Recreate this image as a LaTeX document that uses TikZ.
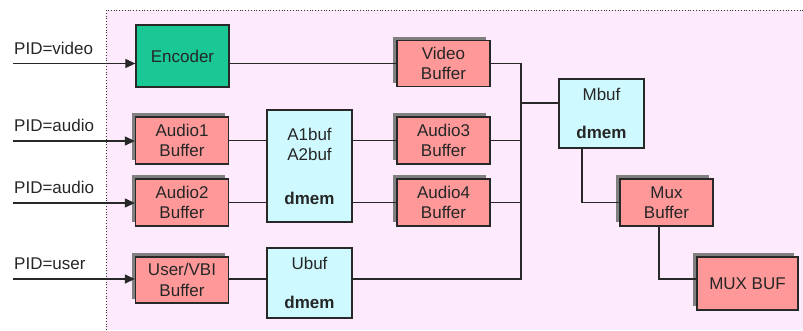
\documentclass[tikz,border=0pt]{standalone}
\usepackage{fontspec}
\setmainfont{Liberation Sans}
\usetikzlibrary{arrows.meta,shadows}
\definecolor{bgpink}{RGB}{253,234,252}
\definecolor{bufpink}{RGB}{255,153,153}
\definecolor{memcyan}{RGB}{206,250,255}
\definecolor{encgreen}{RGB}{26,200,150}
\definecolor{edgecol}{RGB}{40,40,40}
\begin{document}
\begin{tikzpicture}[x=1pt,y=-1pt,
  every node/.style={font=\fontsize{17}{20.5}\selectfont, text=black!85},
  box/.style={draw=edgecol, line width=1.3pt, inner sep=0pt, align=center},
  bufbox/.style={box, fill=bufpink, minimum width=93pt, minimum height=47pt,
     drop shadow={shadow xshift=-4pt, shadow yshift=4pt, fill=black!50, opacity=1}},
  membox/.style={box, fill=memcyan, minimum width=85pt},
  conn/.style={draw=edgecol, line width=1.2pt},
  arr/.style={conn, -{Triangle[length=10pt,width=9pt]}},
  lbl/.style={inner sep=0pt, anchor=west}]
\useasboundingbox (0,0) rectangle (803,330);
\fill[bgpink] (106,10) rectangle (803,330);
\draw[dotted, line width=0.8pt, black!80] (106,330) -- (106,10) -- (803,10);

% left column
\node[box, fill=encgreen, minimum width=93pt, minimum height=62pt] (enc) at (182.5,56) {Encoder};
\node[bufbox] (a1) at (182,140.5) {Audio1\\Buffer};
\node[bufbox] (a2) at (182,202.5) {Audio2\\Buffer};
\node[bufbox, minimum height=46pt] (usr) at (182,280) {User/VBI\\Buffer};

% memory boxes
\node[membox, minimum height=112pt] (ab) at (309.5,166) {A1buf\\A2buf\\[23pt]\textbf{dmem}};
\node[membox, minimum height=70pt] (ub) at (309.5,283) {Ubuf\\[19pt]\textbf{dmem}};

% middle buffers
\node[bufbox, minimum height=46pt] (vb) at (443.5,63.5) {Video\\Buffer};
\node[bufbox] (a3) at (443.5,140.5) {Audio3\\Buffer};
\node[bufbox] (a4) at (443.5,202.5) {Audio4\\Buffer};

% right side
\node[membox, minimum height=69pt] (mb) at (601.5,113.5) {Mbuf\\[18pt]\textbf{dmem}};
\node[bufbox] (mx) at (666.5,202.5) {Mux\\Buffer};
\node[bufbox, minimum width=101pt, minimum height=53pt] (mxb) at (747.5,283.5) {MUX BUF};

% inputs
\coordinate (inV) at (13,63.5);
\coordinate (inA1) at (13,141);
\coordinate (inA2) at (13,203);
\coordinate (inU) at (13,279);
\node[lbl] (lv) at (14,48) {PID=video};
\node[lbl] (la1) at (14,125.5) {PID=audio};
\node[lbl] (la2) at (14,187.5) {PID=audio};
\node[lbl] (lu) at (14,263.5) {PID=user};
\draw[arr] (inV) -- (inV -| enc.west);
\draw[arr] (inA1) -- (inA1 -| a1.west);
\draw[arr] (inA2) -- (inA2 -| a2.west);
\draw[arr] (inU) -- (inU -| usr.west);

% connections
\coordinate (busT) at (521,63.5);
\coordinate (busB) at (521,279);
\coordinate (busM) at (521,103);
\draw[conn] (enc.east |- inV) -- (vb.west);
\draw[conn] (a1.east) -- (a1.east -| ab.west);
\draw[conn] (a2.east) -- (a2.east -| ab.west);
\draw[conn] (usr.east |- inU) -- (ub.west |- inU);
\draw[conn] (ab.east |- a3.west) -- (a3.west);
\draw[conn] (ab.east |- a4.west) -- (a4.west);
\draw[conn] (vb.east) -- (busT) -- (busB) -- (ub.east |- busB);
\draw[conn] (a3.east) -- (a3.east -| busT);
\draw[conn] (a4.east) -- (a4.east -| busT);
\draw[conn] (busM) -- (busM -| mb.west);
\coordinate (k1) at (582,202.5);
\draw[conn] (k1 |- mb.south) -- (k1) -- (mx.west);
\coordinate (k2) at (659,279);
\draw[conn] (k2 |- mx.south) -- (k2) -- (k2 -| mxb.west);
\end{tikzpicture}
\end{document}
